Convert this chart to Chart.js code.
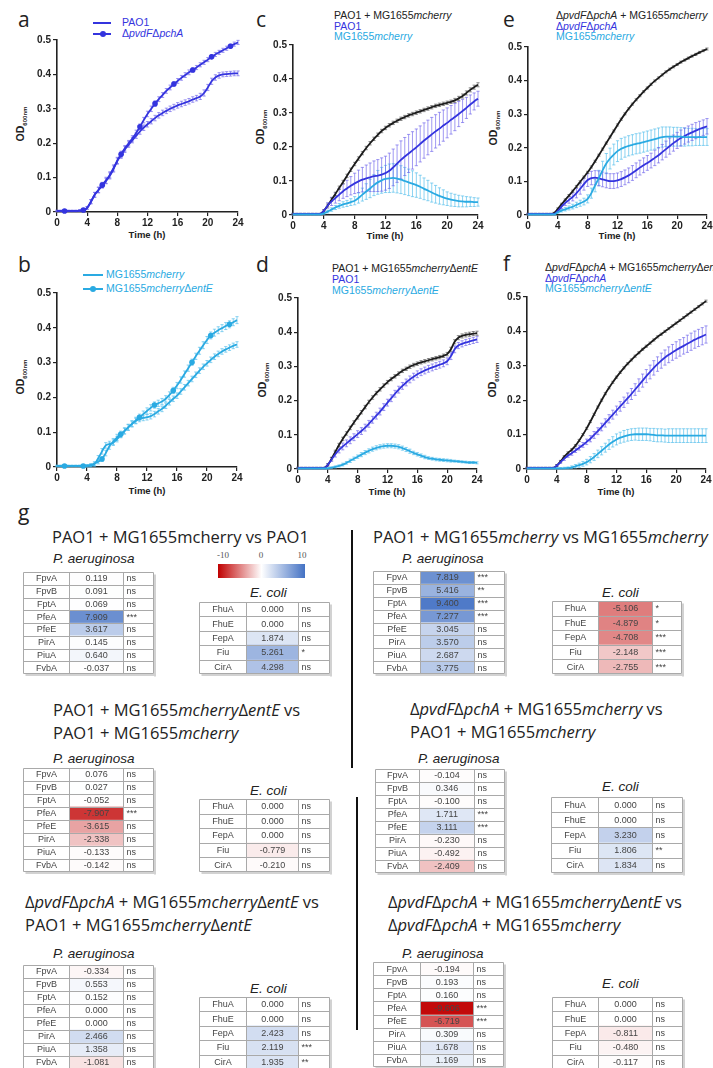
<!DOCTYPE html>
<html>
<head>
<meta charset="utf-8">
<script src="https://cdn.jsdelivr.net/npm/chart.js@4.4.1/dist/chart.umd.min.js"></script>
<style>
  body { margin: 0; background: #fff; }
  #page { position: relative; width: 713px; height: 1068px; overflow: hidden; background: #fff; font-family: Arial, "Liberation Sans", sans-serif; color: #222; }
  canvas { position: absolute; }
  .letter { position: absolute; font: 21px/21px "Open Sans", sans-serif; color: #222; }
  .lg { position: absolute; font-size: 10.5px; white-space: nowrap; }
  .sw { display: inline-block; height: 2px; background: currentColor; vertical-align: middle; position: relative; }
  .sw.dot::after { content: ''; position: absolute; top: -2px; left: 7px; width: 6px; height: 6px; border-radius: 50%; background: currentColor; }
  .od { position: absolute; font-weight: bold; font-size: 10.5px; transform: translate(-50%, -50%) rotate(-90deg); white-space: nowrap; }
  .od sub { font-size: 6px; }
  .time { position: absolute; font-weight: bold; font-size: 9.5px; transform: translate(-50%, -50%); white-space: nowrap; }
  .ttl { position: absolute; font: 16.5px/23px "Open Sans", sans-serif; color: #222; white-space: nowrap; }
  .sp { position: absolute; font: italic 13.5px Arial, "Liberation Sans", sans-serif; color: #222; transform: translateY(-50%); white-space: nowrap; }
  .vline { position: absolute; background: #111; width: 1.5px; }
  .cb { position: absolute; left: 218px; top: 564px; width: 87px; height: 14px; background: linear-gradient(to right, #c00000, #ffffff 50%, #4472c4); }
  .cbl { position: absolute; top: 555px; font: 9px "Liberation Serif", serif; color: #555; transform: translate(-50%, -50%); }
</style>
</head>
<body>
<div id="page">
  <div class="letter" style="left:18px;top:9px">a</div>
  <div class="letter" style="left:18px;top:254px">b</div>
  <div class="letter" style="left:256px;top:9px">c</div>
  <div class="letter" style="left:256px;top:254px">d</div>
  <div class="letter" style="left:503px;top:9px">e</div>
  <div class="letter" style="left:503px;top:253px">f</div>
  <div class="letter" style="left:18px;top:502px">g</div>

  <div class="lg" style="left:93px;top:16.5px;line-height:11px;color:#3434de">
    <div><span class="sw" style="width:18px;margin-right:11px"></span>PAO1</div>
    <div><span class="sw dot" style="width:18px;margin-right:11px"></span>&Delta;<i>pvdF</i>&Delta;<i>pchA</i></div>
  </div>
  <div class="lg" style="left:83px;top:267px;line-height:14px;color:#2aaae2">
    <div><span class="sw" style="width:20px;margin-right:3px"></span>MG1655<i>mcherry</i></div>
    <div><span class="sw dot" style="width:20px;margin-right:3px"></span>MG1655<i>mcherry</i>&Delta;<i>entE</i></div>
  </div>
  <div class="lg" style="left:334px;top:10px;line-height:10.5px">
    <div style="color:#222">PAO1 + MG1655<i>mcherry</i></div>
    <div style="color:#3434de">PAO1</div>
    <div style="color:#2aaae2">MG1655<i>mcherry</i></div>
  </div>
  <div class="lg" style="left:332px;top:262.5px;line-height:11px">
    <div style="color:#222">PAO1 + MG1655<i>mcherry</i>&Delta;<i>entE</i></div>
    <div style="color:#3434de">PAO1</div>
    <div style="color:#2aaae2">MG1655<i>mcherry</i>&Delta;<i>entE</i></div>
  </div>
  <div class="lg" style="left:556px;top:10px;line-height:10.5px">
    <div style="color:#222">&Delta;<i>pvdF</i>&Delta;<i>pchA</i> + MG1655<i>mcherry</i></div>
    <div style="color:#3434de">&Delta;<i>pvdF</i>&Delta;<i>pchA</i></div>
    <div style="color:#2aaae2">MG1655<i>mcherry</i></div>
  </div>
  <div class="lg" style="left:545px;top:262px;line-height:10.5px">
    <div style="color:#222">&Delta;<i>pvdF</i>&Delta;<i>pchA</i> + MG1655<i>mcherry</i>&Delta;<i>entE</i></div>
    <div style="color:#3434de">&Delta;<i>pvdF</i>&Delta;<i>pchA</i></div>
    <div style="color:#2aaae2">MG1655<i>mcherry</i>&Delta;<i>entE</i></div>
  </div>

  <div class="od" style="left:21px;top:124px">OD<sub>600nm</sub></div>
  <div class="od" style="left:21px;top:377px">OD<sub>600nm</sub></div>
  <div class="od" style="left:261px;top:127px">OD<sub>600nm</sub></div>
  <div class="od" style="left:263px;top:380px">OD<sub>600nm</sub></div>
  <div class="od" style="left:494px;top:128px">OD<sub>600nm</sub></div>
  <div class="od" style="left:493px;top:380px">OD<sub>600nm</sub></div>

  <div class="time" style="left:147px;top:234px">Time (h)</div>
  <div class="time" style="left:147px;top:490px">Time (h)</div>
  <div class="time" style="left:385px;top:235px">Time (h)</div>
  <div class="time" style="left:387px;top:491px">Time (h)</div>
  <div class="time" style="left:617px;top:235px">Time (h)</div>
  <div class="time" style="left:616px;top:491px">Time (h)</div>

  <canvas id="chartA"></canvas>
  <canvas id="chartB"></canvas>
  <canvas id="chartC"></canvas>
  <canvas id="chartD"></canvas>
  <canvas id="chartE"></canvas>
  <canvas id="chartF"></canvas>

  <div class="ttl" style="left:52px;top:525px">PAO1 + MG1655mcherry vs PAO1</div>
  <div class="ttl" style="left:373px;top:525px">PAO1 + MG1655<i>mcherry</i> vs MG1655<i>mcherry</i></div>
  <div class="ttl" style="left:53px;top:698px">PAO1 + MG1655<i>mcherry</i>&Delta;<i>entE</i> vs<br>PAO1 + MG1655<i>mcherry</i></div>
  <div class="ttl" style="left:410px;top:697px">&Delta;<i>pvdF</i>&Delta;<i>pchA</i> + MG1655<i>mcherry</i> vs<br>PAO1 + MG1655<i>mcherry</i></div>
  <div class="ttl" style="left:25px;top:890px">&Delta;<i>pvdF</i>&Delta;<i>pchA</i> + MG1655<i>mcherry</i>&Delta;<i>entE</i> vs<br>PAO1 + MG1655<i>mcherry</i>&Delta;<i>entE</i></div>
  <div class="ttl" style="left:388px;top:890px">&Delta;<i>pvdF</i>&Delta;<i>pchA</i> + MG1655<i>mcherry</i>&Delta;<i>entE</i> vs<br>&Delta;<i>pvdF</i>&Delta;<i>pchA</i> + MG1655<i>mcherry</i></div>

  <div class="sp" style="left:53px;top:558px">P. aeruginosa</div>
  <div class="sp" style="left:250px;top:592px">E. coli</div>
  <div class="sp" style="left:402px;top:558px">P. aeruginosa</div>
  <div class="sp" style="left:602px;top:592px">E. coli</div>
  <div class="sp" style="left:53px;top:758px">P. aeruginosa</div>
  <div class="sp" style="left:250px;top:790px">E. coli</div>
  <div class="sp" style="left:418px;top:758px">P. aeruginosa</div>
  <div class="sp" style="left:602px;top:786px">E. coli</div>
  <div class="sp" style="left:53px;top:953px">P. aeruginosa</div>
  <div class="sp" style="left:250px;top:988px">E. coli</div>
  <div class="sp" style="left:402px;top:953px">P. aeruginosa</div>
  <div class="sp" style="left:602px;top:983px">E. coli</div>

  <div class="cb"></div>
  <div class="cbl" style="left:223px">-10</div>
  <div class="cbl" style="left:261px">0</div>
  <div class="cbl" style="left:302px">10</div>

  <div class="vline" style="left:351px;top:530px;height:238px"></div>
  <div class="vline" style="left:356px;top:797px;height:233px"></div>

  <canvas id="t1pa"></canvas><canvas id="t1ec"></canvas>
  <canvas id="t2pa"></canvas><canvas id="t2ec"></canvas>
  <canvas id="t3pa"></canvas><canvas id="t3ec"></canvas>
  <canvas id="t4pa"></canvas><canvas id="t4ec"></canvas>
  <canvas id="t5pa"></canvas><canvas id="t5ec"></canvas>
  <canvas id="t6pa"></canvas><canvas id="t6ec"></canvas>
</div>

<script>
// time points (h), one reading every 30 min
const hours = [0,0.5,1,1.5,2,2.5,3,3.5,4,4.5,5,5.5,6,6.5,7,7.5,8,8.5,9,9.5,10,10.5,11,11.5,12,12.5,13,13.5,14,14.5,15,15.5,16,16.5,17,17.5,18,18.5,19,19.5,20,20.5,21,21.5,22,22.5,23,23.5,24];
const markerHours = [1, 3.5, 6, 8.5, 11, 13, 15.5, 18, 20.5, 23];

// panel a
const aPao = [0.003,0.003,0.003,0.003,0.003,0.003,0.004,0.006, 0.012,0.030,0.050,0.064,0.078,0.090,0.105,0.125, 0.148,0.165,0.182,0.196,0.209,0.222,0.234,0.245, 0.255,0.264,0.273,0.281,0.288,0.294,0.300,0.305, 0.310,0.314,0.318,0.322,0.327,0.331,0.336,0.346, 0.362,0.380,0.391,0.397,0.400,0.401,0.402,0.403, 0.403];
const aPaoErr = [0.002,0.002,0.002,0.002,0.002,0.002,0.002,0.003, 0.004,0.006,0.007,0.008,0.008,0.008,0.009,0.009, 0.009,0.009,0.009,0.008,0.008,0.008,0.008,0.008, 0.008,0.008,0.008,0.008,0.008,0.008,0.008,0.008, 0.008,0.008,0.008,0.008,0.008,0.008,0.009,0.009, 0.009,0.009,0.008,0.008,0.007,0.007,0.007,0.007, 0.007];
const aMut = [0.003,0.003,0.003,0.003,0.003,0.003,0.004,0.006, 0.012,0.030,0.050,0.064,0.078,0.092,0.108,0.128, 0.150,0.168,0.185,0.200,0.214,0.230,0.248,0.267, 0.285,0.300,0.315,0.328,0.340,0.352,0.362,0.372, 0.381,0.390,0.398,0.406,0.413,0.420,0.428,0.435, 0.443,0.451,0.458,0.464,0.470,0.476,0.482,0.488, 0.493];
const aMutErr = [0.002,0.002,0.002,0.002,0.002,0.002,0.002,0.003, 0.004,0.006,0.007,0.008,0.008,0.009,0.009,0.009, 0.009,0.009,0.008,0.008,0.008,0.008,0.008,0.008, 0.008,0.008,0.008,0.007,0.007,0.007,0.007,0.007, 0.007,0.007,0.007,0.007,0.006,0.006,0.006,0.006, 0.006,0.006,0.006,0.006,0.006,0.006,0.006,0.006, 0.006];

// panel b
const bMg = [0.003,0.003,0.003,0.003,0.003,0.003,0.003,0.003, 0.003,0.003,0.008,0.025,0.045,0.062,0.066,0.070, 0.080,0.092,0.103,0.114,0.124,0.132,0.138,0.141, 0.143,0.146,0.152,0.160,0.167,0.176,0.186,0.196, 0.205,0.217,0.229,0.241,0.253,0.265,0.277,0.288, 0.298,0.308,0.317,0.325,0.332,0.338,0.343,0.348, 0.352];
const bMgErr = [0.002,0.002,0.002,0.002,0.002,0.002,0.002,0.003, 0.003,0.004,0.006,0.008,0.008,0.008,0.008,0.008, 0.008,0.008,0.008,0.008,0.008,0.008,0.008,0.008, 0.008,0.008,0.008,0.008,0.008,0.008,0.008,0.008, 0.008,0.008,0.008,0.008,0.008,0.008,0.008,0.008, 0.008,0.008,0.008,0.008,0.008,0.008,0.008,0.008, 0.008];
const bEnt = [0.003,0.003,0.003,0.003,0.003,0.003,0.003,0.003, 0.004,0.006,0.010,0.015,0.023,0.040,0.060,0.073, 0.085,0.094,0.104,0.114,0.124,0.134,0.143,0.152, 0.161,0.170,0.178,0.183,0.188,0.196,0.207,0.220, 0.234,0.250,0.267,0.284,0.301,0.318,0.334,0.350, 0.365,0.378,0.386,0.393,0.399,0.405,0.410,0.416, 0.422];
const bEntErr = [0.002,0.002,0.002,0.002,0.002,0.002,0.002,0.003, 0.003,0.004,0.005,0.006,0.007,0.008,0.009,0.009, 0.009,0.009,0.009,0.009,0.009,0.009,0.009,0.009, 0.009,0.009,0.009,0.009,0.009,0.009,0.009,0.009, 0.009,0.009,0.009,0.009,0.009,0.009,0.010,0.010, 0.010,0.010,0.010,0.010,0.010,0.010,0.010,0.010, 0.010];

// panel c
const cMix = [0.003,0.003,0.003,0.003,0.003,0.003,0.003,0.003, 0.012,0.028,0.045,0.062,0.080,0.097,0.115,0.133, 0.150,0.166,0.182,0.197,0.211,0.224,0.236,0.247, 0.256,0.264,0.271,0.277,0.283,0.288,0.293,0.297, 0.301,0.305,0.309,0.313,0.317,0.321,0.324,0.327, 0.330,0.333,0.337,0.343,0.350,0.359,0.368,0.376, 0.383];
const cMixErr = [0.002,0.002,0.002,0.002,0.002,0.002,0.002,0.002, 0.003,0.004,0.005,0.005,0.005,0.005,0.005,0.005, 0.005,0.005,0.005,0.005,0.005,0.005,0.005,0.005, 0.005,0.005,0.005,0.005,0.005,0.005,0.005,0.005, 0.005,0.005,0.005,0.005,0.005,0.005,0.005,0.005, 0.005,0.005,0.006,0.006,0.006,0.006,0.006,0.006, 0.006];
const cPao = [0.003,0.003,0.003,0.003,0.003,0.003,0.003,0.003, 0.012,0.028,0.040,0.050,0.060,0.070,0.078,0.086, 0.093,0.099,0.104,0.108,0.111,0.114,0.116,0.119, 0.123,0.130,0.140,0.151,0.162,0.172,0.181,0.190, 0.199,0.209,0.219,0.228,0.237,0.246,0.254,0.263, 0.271,0.280,0.288,0.297,0.306,0.315,0.325,0.334, 0.342];
const cPaoErr = [0.002,0.002,0.002,0.002,0.002,0.002,0.002,0.002, 0.004,0.008,0.012,0.015,0.018,0.021,0.024,0.027, 0.030,0.033,0.036,0.039,0.042,0.045,0.047,0.049, 0.050,0.052,0.054,0.055,0.056,0.056,0.056,0.055, 0.054,0.053,0.052,0.051,0.050,0.049,0.048,0.046, 0.044,0.042,0.040,0.037,0.034,0.031,0.028,0.025, 0.022];
const cMg = [0.002,0.002,0.002,0.002,0.002,0.002,0.002,0.002, 0.005,0.010,0.016,0.022,0.027,0.031,0.034,0.038, 0.042,0.050,0.060,0.069,0.078,0.088,0.096,0.102, 0.106,0.108,0.109,0.107,0.104,0.100,0.096,0.092, 0.088,0.083,0.077,0.072,0.066,0.061,0.056,0.052, 0.048,0.045,0.043,0.041,0.040,0.039,0.039,0.038, 0.038];
const cMgErr = [0.002,0.002,0.002,0.002,0.002,0.002,0.002,0.002, 0.003,0.004,0.005,0.006,0.007,0.008,0.009,0.010, 0.012,0.015,0.019,0.023,0.027,0.031,0.035,0.038, 0.040,0.042,0.042,0.042,0.041,0.040,0.039,0.038, 0.036,0.034,0.032,0.030,0.028,0.026,0.024,0.022, 0.020,0.019,0.018,0.017,0.016,0.015,0.014,0.013, 0.012];

// panel d
const dMix = [0.003,0.003,0.003,0.003,0.003,0.003,0.003,0.003, 0.012,0.030,0.050,0.070,0.088,0.104,0.120,0.136, 0.151,0.166,0.181,0.196,0.209,0.222,0.233,0.244, 0.254,0.263,0.271,0.279,0.287,0.293,0.299,0.304, 0.308,0.312,0.315,0.318,0.321,0.324,0.327,0.331, 0.336,0.350,0.372,0.384,0.389,0.392,0.394,0.396, 0.397];
const dMixErr = [0.002,0.002,0.002,0.002,0.002,0.002,0.002,0.002, 0.003,0.004,0.005,0.005,0.005,0.005,0.005,0.005, 0.005,0.005,0.005,0.005,0.005,0.005,0.005,0.005, 0.005,0.005,0.005,0.005,0.005,0.005,0.005,0.005, 0.005,0.005,0.005,0.005,0.005,0.005,0.005,0.005, 0.005,0.006,0.006,0.006,0.006,0.006,0.006,0.006, 0.006];
const dPao = [0.003,0.003,0.003,0.003,0.003,0.003,0.003,0.003, 0.012,0.028,0.043,0.056,0.066,0.075,0.084,0.093, 0.102,0.111,0.121,0.132,0.144,0.156,0.168,0.181, 0.194,0.207,0.220,0.232,0.243,0.253,0.262,0.270, 0.277,0.283,0.288,0.293,0.297,0.301,0.305,0.309, 0.315,0.330,0.350,0.361,0.366,0.370,0.373,0.376, 0.379];
const dPaoErr = [0.002,0.002,0.002,0.002,0.002,0.002,0.002,0.002, 0.004,0.006,0.008,0.009,0.010,0.010,0.010,0.010, 0.010,0.010,0.010,0.010,0.010,0.010,0.010,0.010, 0.010,0.010,0.010,0.010,0.010,0.010,0.010,0.010, 0.010,0.010,0.010,0.010,0.010,0.010,0.010,0.010, 0.010,0.010,0.010,0.009,0.009,0.009,0.009,0.009, 0.009];
const dEnt = [0.002,0.002,0.002,0.002,0.002,0.002,0.002,0.002, 0.002,0.004,0.006,0.009,0.013,0.018,0.024,0.030, 0.036,0.042,0.048,0.053,0.058,0.062,0.065,0.067, 0.068,0.068,0.067,0.065,0.061,0.057,0.052,0.047, 0.043,0.039,0.035,0.032,0.030,0.028,0.027,0.026, 0.025,0.024,0.023,0.022,0.021,0.020,0.019,0.019, 0.018];
const dEntErr = [0.002,0.002,0.002,0.002,0.002,0.002,0.002,0.002, 0.002,0.002,0.003,0.003,0.004,0.004,0.005,0.005, 0.005,0.006,0.006,0.006,0.006,0.006,0.006,0.006, 0.006,0.006,0.006,0.006,0.006,0.006,0.006,0.005, 0.005,0.005,0.005,0.004,0.004,0.004,0.004,0.004, 0.004,0.004,0.003,0.003,0.003,0.003,0.003,0.003, 0.003];

// panel e
const eMix = [0.003,0.003,0.003,0.003,0.003,0.003,0.003,0.006, 0.018,0.032,0.045,0.058,0.071,0.085,0.099,0.113, 0.127,0.143,0.160,0.178,0.196,0.214,0.232,0.250, 0.268,0.285,0.301,0.316,0.330,0.343,0.355,0.367, 0.378,0.389,0.399,0.408,0.417,0.426,0.434,0.441, 0.448,0.455,0.461,0.467,0.473,0.478,0.484,0.489, 0.494];
const eMixErr = [0.002,0.002,0.002,0.002,0.002,0.002,0.002,0.002, 0.003,0.003,0.003,0.003,0.003,0.003,0.003,0.003, 0.003,0.003,0.003,0.003,0.003,0.003,0.003,0.003, 0.003,0.003,0.003,0.003,0.003,0.003,0.003,0.003, 0.003,0.003,0.003,0.003,0.003,0.003,0.003,0.003, 0.003,0.003,0.003,0.003,0.003,0.003,0.003,0.003, 0.003];
const ePao = [0.003,0.003,0.003,0.003,0.003,0.003,0.003,0.003, 0.012,0.025,0.036,0.045,0.054,0.065,0.078,0.092, 0.104,0.110,0.111,0.109,0.106,0.103,0.101,0.101, 0.103,0.107,0.112,0.118,0.125,0.133,0.141,0.148, 0.155,0.162,0.170,0.178,0.187,0.196,0.205,0.214, 0.222,0.229,0.235,0.241,0.246,0.251,0.256,0.260, 0.264];
const ePaoErr = [0.002,0.002,0.002,0.002,0.002,0.002,0.002,0.002, 0.004,0.006,0.008,0.010,0.012,0.014,0.016,0.018, 0.019,0.020,0.021,0.022,0.022,0.022,0.022,0.022, 0.022,0.022,0.022,0.022,0.022,0.022,0.022,0.022, 0.022,0.022,0.023,0.023,0.023,0.024,0.024,0.024, 0.024,0.024,0.024,0.024,0.024,0.024,0.023,0.023, 0.023];
const eMg = [0.002,0.002,0.002,0.002,0.002,0.002,0.002,0.002, 0.008,0.013,0.017,0.021,0.025,0.030,0.035,0.040, 0.048,0.065,0.088,0.110,0.133,0.153,0.168,0.180, 0.190,0.197,0.202,0.206,0.209,0.212,0.214,0.217, 0.220,0.223,0.226,0.229,0.232,0.233,0.233,0.233, 0.233,0.233,0.232,0.232,0.232,0.232,0.232,0.232, 0.232];
const eMgErr = [0.002,0.002,0.002,0.002,0.002,0.002,0.002,0.002, 0.003,0.004,0.005,0.006,0.007,0.008,0.009,0.010, 0.012,0.015,0.019,0.023,0.027,0.030,0.031,0.031, 0.031,0.031,0.030,0.030,0.030,0.030,0.030,0.030, 0.030,0.030,0.030,0.030,0.030,0.029,0.029,0.028, 0.028,0.027,0.027,0.026,0.026,0.025,0.025,0.025, 0.025];

// panel f
const fMix = [0.003,0.003,0.003,0.003,0.003,0.003,0.003,0.003, 0.010,0.022,0.036,0.047,0.056,0.068,0.083,0.100, 0.118,0.138,0.159,0.180,0.200,0.219,0.236,0.252, 0.267,0.281,0.294,0.306,0.317,0.328,0.338,0.348, 0.357,0.366,0.375,0.384,0.392,0.400,0.408,0.416, 0.424,0.432,0.440,0.448,0.456,0.464,0.472,0.480, 0.488];
const fMixErr = [0.002,0.002,0.002,0.002,0.002,0.002,0.002,0.002, 0.003,0.003,0.003,0.003,0.003,0.003,0.003,0.003, 0.003,0.003,0.003,0.003,0.003,0.003,0.003,0.003, 0.003,0.003,0.003,0.003,0.003,0.003,0.003,0.003, 0.003,0.003,0.003,0.003,0.003,0.003,0.003,0.003, 0.003,0.003,0.003,0.003,0.003,0.003,0.003,0.003, 0.003];
const fPao = [0.003,0.003,0.003,0.003,0.003,0.003,0.003,0.003, 0.010,0.020,0.030,0.039,0.046,0.054,0.062,0.070, 0.079,0.088,0.099,0.110,0.122,0.134,0.146,0.158, 0.170,0.182,0.194,0.206,0.218,0.231,0.244,0.257, 0.270,0.282,0.294,0.305,0.315,0.324,0.332,0.339, 0.346,0.352,0.358,0.364,0.370,0.376,0.381,0.386, 0.391];
const fPaoErr = [0.002,0.002,0.002,0.002,0.002,0.002,0.002,0.002, 0.003,0.004,0.005,0.005,0.006,0.006,0.007,0.007, 0.008,0.009,0.010,0.010,0.011,0.012,0.012,0.013, 0.013,0.014,0.015,0.015,0.016,0.017,0.018,0.019, 0.019,0.020,0.021,0.021,0.022,0.022,0.023,0.023, 0.024,0.024,0.024,0.025,0.025,0.025,0.025,0.025, 0.025];
const fEnt = [0.002,0.002,0.002,0.002,0.002,0.002,0.002,0.002, 0.002,0.002,0.002,0.003,0.005,0.008,0.011,0.015, 0.020,0.027,0.035,0.044,0.053,0.062,0.071,0.079, 0.086,0.091,0.095,0.098,0.100,0.101,0.101,0.101, 0.101,0.100,0.099,0.098,0.098,0.097,0.097,0.097, 0.097,0.097,0.097,0.097,0.097,0.097,0.097,0.097, 0.097];
const fEntErr = [0.002,0.002,0.002,0.002,0.002,0.002,0.002,0.002, 0.002,0.002,0.003,0.003,0.004,0.005,0.006,0.007, 0.008,0.009,0.010,0.011,0.012,0.013,0.014,0.015, 0.016,0.016,0.017,0.017,0.017,0.017,0.018,0.018, 0.018,0.018,0.019,0.019,0.019,0.019,0.020,0.020, 0.020,0.020,0.020,0.020,0.020,0.020,0.020,0.020, 0.020];

// panel g: siderophore receptor expression, log2 fold change
const paGenes = ['FpvA', 'FpvB', 'FptA', 'PfeA', 'PfeE', 'PirA', 'PiuA', 'FvbA'];
const ecGenes = ['FhuA', 'FhuE', 'FepA', 'Fiu', 'CirA'];

const g1Pa = [0.119, 0.091, 0.069, 7.909, 3.617, 0.145, 0.640, -0.037];
const g1PaSig = ['ns', 'ns', 'ns', '***', 'ns', 'ns', 'ns', 'ns'];
const g1Ec = [0.000, 0.000, 1.874, 5.261, 4.298];
const g1EcSig = ['ns', 'ns', 'ns', '*', 'ns'];

const g2Pa = [7.819, 5.416, 9.400, 7.277, 3.045, 3.570, 2.687, 3.775];
const g2PaSig = ['***', '**', '***', '***', 'ns', 'ns', 'ns', 'ns'];
const g2Ec = [-5.106, -4.879, -4.708, -2.148, -2.755];
const g2EcSig = ['*', '*', '***', '***', '***'];

const g3Pa = [0.076, 0.027, -0.052, -7.907, -3.615, -2.338, -0.133, -0.142];
const g3PaSig = ['ns', 'ns', 'ns', '***', 'ns', 'ns', 'ns', 'ns'];
const g3Ec = [0.000, 0.000, 0.000, -0.779, -0.210];
const g3EcSig = ['ns', 'ns', 'ns', 'ns', 'ns'];

const g4Pa = [-0.104, 0.346, -0.100, 1.711, 3.111, -0.230, -0.492, -2.409];
const g4PaSig = ['ns', 'ns', 'ns', '***', '***', 'ns', 'ns', 'ns'];
const g4Ec = [0.000, 0.000, 3.230, 1.806, 1.834];
const g4EcSig = ['ns', 'ns', 'ns', '**', 'ns'];

const g5Pa = [-0.334, 0.553, 0.152, 0.000, 0.000, 2.466, 1.358, -1.081];
const g5PaSig = ['ns', 'ns', 'ns', 'ns', 'ns', 'ns', 'ns', 'ns'];
const g5Ec = [0.000, 0.000, 2.423, 2.119, 1.935];
const g5EcSig = ['ns', 'ns', 'ns', '***', '**'];

const g6Pa = [-0.194, 0.193, 0.160, -9.606, -6.719, 0.309, 1.678, 1.169];
const g6PaSig = ['ns', 'ns', 'ns', '***', '***', 'ns', 'ns', 'ns'];
const g6Ec = [0.000, 0.000, -0.811, -0.480, -0.117];
const g6EcSig = ['ns', 'ns', 'ns', 'ns', 'ns'];

const BLUE = '#3434de', LIGHT = '#2aaae2', DARK = '#1c1c1c';
const BLUE_ERR = 'rgba(105,95,235,0.8)', LIGHT_ERR = 'rgba(85,190,235,0.85)', DARK_ERR = 'rgba(70,70,70,0.75)';
const axisFont = { family: 'Arial, "Liberation Sans", sans-serif', size: 10, weight: 'bold' };

// vertical SD bars with small caps, drawn under the curves
const errorBars = {
    id: 'errorBars',
    beforeDatasetsDraw(chart) {
        const ctx = chart.ctx;
        const x = chart.scales.x, y = chart.scales.y;
        chart.data.datasets.forEach(ds => {
            if (!ds.errors) return;
            ctx.save();
            ctx.strokeStyle = ds.errColor;
            ctx.lineWidth = 0.8;
            ctx.beginPath();
            ds.data.forEach((p, i) => {
                const e = ds.errors[i];
                const px = x.getPixelForValue(p.x);
                const lo = y.getPixelForValue(Math.max(0, p.y - e));
                const hi = y.getPixelForValue(p.y + e);
                ctx.moveTo(px, lo); ctx.lineTo(px, hi);
                ctx.moveTo(px - 1.6, lo); ctx.lineTo(px + 1.6, lo);
                ctx.moveTo(px - 1.6, hi); ctx.lineTo(px + 1.6, hi);
            });
            ctx.stroke();
            ctx.restore();
        });
    }
};

function makeGrowth(id, area, sets) {
    const cv = document.getElementById(id);
    const padL = 40, padT = 8, padR = 8, xH = 24;
    cv.width = area.r - area.l + padL + padR;
    cv.height = area.b - area.t + padT + xH;
    cv.style.left = (area.l - padL) + 'px';
    cv.style.top = (area.t - padT) + 'px';

    const axisLine = { color: '#222', width: 1.6 };
    const tickMarks = { drawOnChartArea: false, drawTicks: true, tickLength: 4, color: '#222', lineWidth: 1.2 };

    new Chart(cv, {
        type: 'line',
        data: {
            datasets: sets.map(s => ({
                data: hours.map((h, i) => ({ x: h, y: s.vals[i] })),
                errors: s.errs,
                errColor: s.errColor,
                borderColor: s.color,
                backgroundColor: s.color,
                borderWidth: 1.8,
                cubicInterpolationMode: 'monotone',
                pointRadius: s.markers ? (c => markerHours.includes(hours[c.dataIndex]) ? 2.8 : 0) : 0,
                pointBorderWidth: 0,
                clip: false
            }))
        },
        options: {
            responsive: false,
            animation: false,
            events: [],
            layout: { padding: { left: 0, top: padT, right: padR, bottom: 0 } },
            scales: {
                x: {
                    type: 'linear', min: 0, max: 24,
                    ticks: { stepSize: 4, font: axisFont, color: '#222', padding: 1, maxRotation: 0 },
                    grid: tickMarks, border: axisLine,
                    afterFit: s => { s.height = xH; }
                },
                y: {
                    type: 'linear', min: 0, max: 0.5,
                    ticks: { stepSize: 0.1, font: axisFont, color: '#222', padding: 2,
                             callback: v => String(Math.round(v * 10) / 10) },
                    grid: tickMarks, border: axisLine,
                    afterFit: s => { s.width = padL; }
                }
            },
            plugins: { legend: { display: false }, tooltip: { enabled: false } }
        },
        plugins: [errorBars]
    });
}

makeGrowth('chartA', { l: 57, r: 238, t: 40, b: 212 }, [
    { vals: aPao, errs: aPaoErr, color: BLUE, errColor: BLUE_ERR },
    { vals: aMut, errs: aMutErr, color: BLUE, errColor: BLUE_ERR, markers: true }
]);
makeGrowth('chartB', { l: 57, r: 237, t: 293, b: 467 }, [
    { vals: bMg, errs: bMgErr, color: LIGHT, errColor: LIGHT_ERR },
    { vals: bEnt, errs: bEntErr, color: LIGHT, errColor: LIGHT_ERR, markers: true }
]);
makeGrowth('chartC', { l: 293, r: 478, t: 45, b: 215 }, [
    { vals: cMg, errs: cMgErr, color: LIGHT, errColor: LIGHT_ERR },
    { vals: cPao, errs: cPaoErr, color: BLUE, errColor: BLUE_ERR },
    { vals: cMix, errs: cMixErr, color: DARK, errColor: DARK_ERR }
]);
makeGrowth('chartD', { l: 298, r: 477, t: 298, b: 469 }, [
    { vals: dEnt, errs: dEntErr, color: LIGHT, errColor: LIGHT_ERR },
    { vals: dPao, errs: dPaoErr, color: BLUE, errColor: BLUE_ERR },
    { vals: dMix, errs: dMixErr, color: DARK, errColor: DARK_ERR }
]);
makeGrowth('chartE', { l: 528, r: 707, t: 47, b: 215 }, [
    { vals: eMg, errs: eMgErr, color: LIGHT, errColor: LIGHT_ERR },
    { vals: ePao, errs: ePaoErr, color: BLUE, errColor: BLUE_ERR },
    { vals: eMix, errs: eMixErr, color: DARK, errColor: DARK_ERR }
]);
makeGrowth('chartF', { l: 527, r: 706, t: 297, b: 469 }, [
    { vals: fEnt, errs: fEntErr, color: LIGHT, errColor: LIGHT_ERR },
    { vals: fPao, errs: fPaoErr, color: BLUE, errColor: BLUE_ERR },
    { vals: fMix, errs: fMixErr, color: DARK, errColor: DARK_ERR }
]);

// heat colour: red for down, blue for up, white at 0, scale -10..10
function heatColor(v) {
    const f = Math.min(Math.abs(v) / 10, 1);
    const c = v < 0 ? [192, 0, 0] : [68, 114, 196];
    const mix = c.map(k => Math.round(255 + (k - 255) * f));
    return 'rgb(' + mix.join(',') + ')';
}

// gene / value / significance grid around the heat cells
const tableCells = {
    id: 'tableCells',
    afterDatasetsDraw(chart, args, opts) {
        const { ctx, chartArea: a } = chart;
        const y = chart.scales.y;
        const ds = chart.data.datasets[0];
        const n = chart.data.labels.length;
        const rowH = (a.bottom - a.top) / n;
        const xL = 0.5, x1 = Math.round(a.left) + 0.5, x2 = Math.round(a.right) + 0.5;
        const xR = Math.round(a.right + opts.sigW) - 0.5;
        const yT = Math.round(y.getPixelForValue(0) - rowH / 2) + 0.5;
        const yB = Math.round(y.getPixelForValue(n - 1) + rowH / 2) - 0.5;

        ctx.save();
        ctx.fillStyle = '#d2d2d2';
        ctx.fillRect(xL + 2, yB + 0.5, xR - xL, 2);
        ctx.fillRect(xR + 0.5, yT + 2, 2, yB - yT + 1);

        ctx.strokeStyle = '#a9a9a9';
        ctx.lineWidth = 1;
        ctx.beginPath();
        for (let i = 0; i <= n; i++) {
            const yy = i === n ? yB : Math.round(y.getPixelForValue(i) - rowH / 2) + 0.5;
            ctx.moveTo(xL, yy); ctx.lineTo(xR, yy);
        }
        [xL, x1, x2, xR].forEach(xx => { ctx.moveTo(xx, yT); ctx.lineTo(xx, yB); });
        ctx.stroke();

        ctx.font = '9px Arial, "Liberation Sans", sans-serif';
        ctx.fillStyle = '#454545';
        ctx.textBaseline = 'middle';
        chart.data.labels.forEach((g, i) => {
            const cy = y.getPixelForValue(i) + 0.5;
            ctx.textAlign = 'center';
            ctx.fillText(g, (xL + x1) / 2, cy);
            ctx.fillText(ds.values[i].toFixed(3), (x1 + x2) / 2, cy);
            ctx.textAlign = 'left';
            ctx.fillText(ds.sigs[i], x2 + 3, cy);
        });
        ctx.restore();
    }
};

function makeTable(id, box, genes, vals, sigs) {
    const cv = document.getElementById(id);
    const sigW = box.w - box.nameW - box.valW;
    cv.width = box.w + 4;
    cv.height = box.h + 4;
    cv.style.left = box.x + 'px';
    cv.style.top = box.y + 'px';
    new Chart(cv, {
        type: 'bar',
        data: {
            labels: genes,
            datasets: [{
                data: vals.map(() => [0, 1]),
                values: vals,
                sigs: sigs,
                backgroundColor: vals.map(heatColor),
                borderWidth: 0,
                barPercentage: 1,
                categoryPercentage: 1
            }]
        },
        options: {
            indexAxis: 'y',
            responsive: false,
            animation: false,
            events: [],
            layout: { padding: { left: box.nameW, right: sigW + 4, top: 0, bottom: 4 } },
            scales: { x: { display: false, min: 0, max: 1 }, y: { display: false } },
            plugins: { legend: { display: false }, tooltip: { enabled: false }, tableCells: { sigW: sigW } }
        },
        plugins: [tableCells]
    });
}

makeTable('t1pa', { x: 23, y: 572, w: 131, h: 102, nameW: 46, valW: 54 }, paGenes, g1Pa, g1PaSig);
makeTable('t1ec', { x: 199, y: 602, w: 131, h: 72, nameW: 47, valW: 52 }, ecGenes, g1Ec, g1EcSig);
makeTable('t2pa', { x: 373, y: 571, w: 132, h: 103, nameW: 47, valW: 54 }, paGenes, g2Pa, g2PaSig);
makeTable('t2ec', { x: 552, y: 601, w: 130, h: 73, nameW: 46, valW: 54 }, ecGenes, g2Ec, g2EcSig);
makeTable('t3pa', { x: 23, y: 768, w: 131, h: 104, nameW: 46, valW: 54 }, paGenes, g3Pa, g3PaSig);
makeTable('t3ec', { x: 199, y: 799, w: 131, h: 73, nameW: 47, valW: 52 }, ecGenes, g3Ec, g3EcSig);
makeTable('t4pa', { x: 375, y: 769, w: 130, h: 104, nameW: 44, valW: 55 }, paGenes, g4Pa, g4PaSig);
makeTable('t4ec', { x: 551, y: 797, w: 132, h: 76, nameW: 47, valW: 54 }, ecGenes, g4Ec, g4EcSig);
makeTable('t5pa', { x: 23, y: 965, w: 131, h: 104, nameW: 46, valW: 54 }, paGenes, g5Pa, g5PaSig);
makeTable('t5ec', { x: 199, y: 997, w: 131, h: 72, nameW: 47, valW: 52 }, ecGenes, g5Ec, g5EcSig);
makeTable('t6pa', { x: 373, y: 962, w: 131, h: 105, nameW: 47, valW: 53 }, paGenes, g6Pa, g6PaSig);
makeTable('t6ec', { x: 552, y: 997, w: 131, h: 72, nameW: 46, valW: 54 }, ecGenes, g6Ec, g6EcSig);
</script>
</body>
</html>
